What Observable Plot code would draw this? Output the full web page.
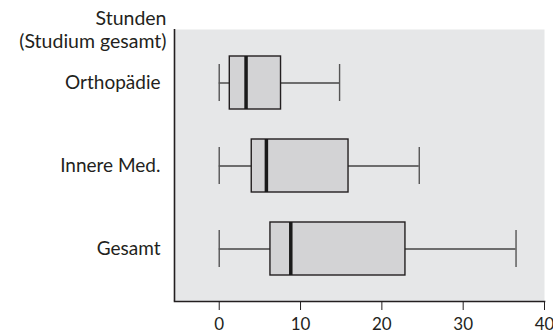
<!DOCTYPE html>
<html>
<head>
<meta charset="utf-8">
<script src="https://cdn.jsdelivr.net/npm/d3@7"></script>
<script src="https://cdn.jsdelivr.net/npm/@observablehq/plot@0.6"></script>
<style>
  body { margin: 0; background: #fff; }
  #chart svg { font-family: Lato, "Open Sans", sans-serif; }
</style>
</head>
<body>
<div id="chart"></div>
<script>
const categories = ["Orthopädie", "Innere Med.", "Gesamt"];
const whiskerLow = [0, 0, 0];
const q1 = [1.3, 4.0, 6.3];
const median = [3.3, 5.8, 8.8];
const q3 = [7.6, 15.9, 22.9];
const whiskerHigh = [14.8, 24.6, 36.5];
const xTicks = [0, 10, 20, 30, 40];
const axisTitle = "Stunden\n(Studium gesamt)";

const data = categories.map((c, i) => ({
  cat: c, lo: whiskerLow[i], q1: q1[i], med: median[i], q3: q3[i], hi: whiskerHigh[i]
}));

const chart = Plot.plot({
  width: 553,
  height: 334,
  marginLeft: 174,
  marginRight: 9,
  marginTop: 29,
  marginBottom: 33,
  style: { fontSize: "17px", color: "#231f20", background: "#fff" },
  x: { domain: [-5.5, 40], ticks: xTicks, label: null },
  y: { domain: categories, paddingInner: 0.365, paddingOuter: 0.31, label: null },
  marks: [
    Plot.frame({ fill: "#e6e7e8", stroke: null }),
    Plot.ruleY(data, { y: "cat", x1: "lo", x2: "q1", stroke: "#444", strokeWidth: 1.4 }),
    Plot.ruleY(data, { y: "cat", x1: "q3", x2: "hi", stroke: "#444", strokeWidth: 1.4 }),
    Plot.tickX(data, { y: "cat", x: "lo", stroke: "#555", strokeWidth: 1.4, insetTop: 8, insetBottom: 8 }),
    Plot.tickX(data, { y: "cat", x: "hi", stroke: "#555", strokeWidth: 1.4, insetTop: 8, insetBottom: 8 }),
    Plot.barX(data, { y: "cat", x1: "q1", x2: "q3", fill: "#d3d3d5", stroke: "#231f20", strokeWidth: 1.4 }),
    Plot.tickX(data, { y: "cat", x: "med", stroke: "#1a1a1a", strokeWidth: 3.5 }),
    Plot.ruleX([-5.5], { stroke: "#231f20", strokeWidth: 1.6 }),
    Plot.frame({ anchor: "bottom", stroke: "#231f20", strokeWidth: 1.6 }),
    Plot.axisX({ ticks: xTicks, tickSize: 9, tickPadding: 7, fontSize: 17, label: null }),
    Plot.axisY({ tickSize: 0, tickPadding: 14, fontSize: 19, label: null }),
    Plot.text([axisTitle], { frameAnchor: "top-left", dx: -8, dy: -20, textAnchor: "end", lineAnchor: "top", lineHeight: 1.15, fill: "#231f20", fontSize: 19.5 })
  ]
});
document.getElementById("chart").appendChild(chart);
</script>
</body>
</html>
